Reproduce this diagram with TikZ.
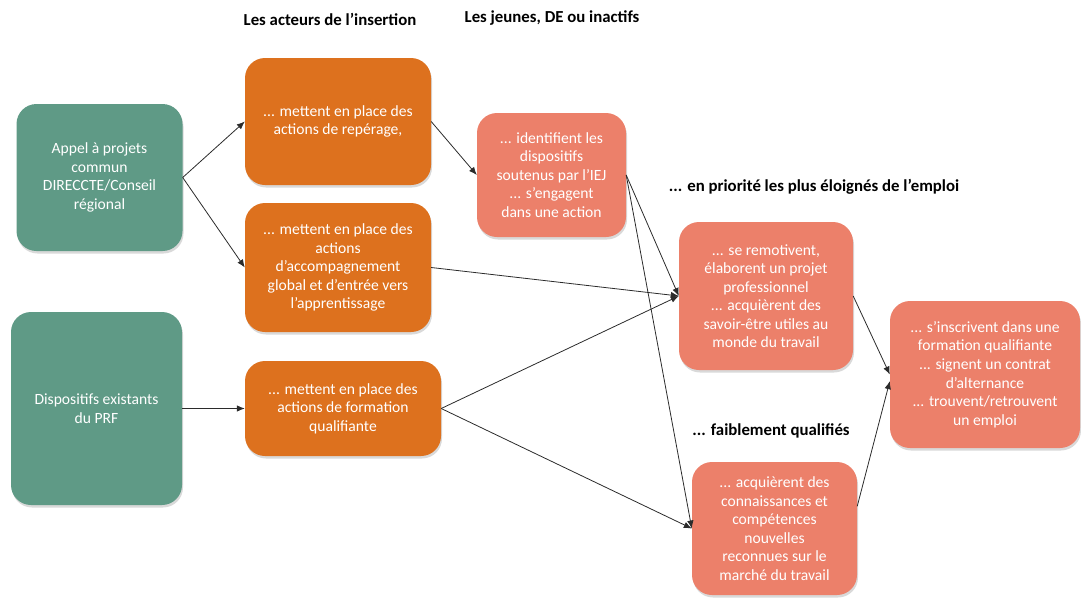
\documentclass[tikz,border=0pt]{standalone}
\usepackage{fontspec}
\setmainfont{Carlito}
\usepackage{tikz}
\usetikzlibrary{arrows.meta, shadows}
\definecolor{gcol}{HTML}{5F9A86}
\definecolor{ocol}{HTML}{DD711E}
\definecolor{scol}{HTML}{EC806A}
\definecolor{lcol}{HTML}{2B2B2B}

\begin{document}
\begin{tikzpicture}[x=1pt, y=-1pt, >={Latex[length=8pt, width=6.5pt]},
  box/.style={rounded corners=20pt, text=white, align=center, inner sep=0pt,
    font=\fontsize{15.6}{18.5}\selectfont,
    drop shadow={shadow xshift=1pt, shadow yshift=-2.5pt, opacity=0.3}},
  head/.style={font=\fontsize{16.8}{19}\selectfont\bfseries, text=black},
  arr/.style={->, lcol, line width=0.8pt}]

\useasboundingbox (0,0) rectangle (1081,600);

% sources
\node[box, fill=gcol, minimum width=166pt, minimum height=147pt] (appel) at (99.5,177.5)
  {Appel à projets\\commun\\DIRECCTE/Conseil\\régional};
\node[box, fill=gcol, minimum width=171pt, minimum height=193pt] (prf) at (96.5,408.5)
  {Dispositifs existants\\du PRF};

% acteurs
\node[box, fill=ocol, minimum width=186pt, minimum height=127pt] (rep) at (338,121.5)
  {... mettent en place des\\actions de repérage,};
\node[box, fill=ocol, minimum width=186pt, minimum height=129pt] (acc) at (338,267.5)
  {... mettent en place des\\actions\\d’accompagnement\\global et d’entrée vers\\l’apprentissage};
\node[box, fill=ocol, minimum width=196pt, minimum height=95pt] (form) at (343,408.5)
  {... mettent en place des\\actions de formation\\qualifiante};

% jeunes
\node[box, fill=scol, minimum width=149pt, minimum height=124pt] (iej) at (551.5,175)
  {... identifient les\\dispositifs\\soutenus par l’IEJ\\... s’engagent\\dans une action};
\node[box, fill=scol, minimum width=174pt, minimum height=148pt] (remot) at (766,296)
  {... se remotivent,\\élaborent un projet\\professionnel\\... acquièrent des\\savoir-être utiles au\\monde du travail};
\node[box, fill=scol, minimum width=165pt, minimum height=133pt] (conn) at (774.5,528.5)
  {... acquièrent des\\connaissances et\\compétences\\nouvelles\\reconnues sur le\\marché du travail};
\node[box, fill=scol, minimum width=190pt, minimum height=147pt] (emploi) at (985,374.5)
  {... s’inscrivent dans une\\formation qualifiante\\... signent un contrat\\d’alternance\\... trouvent/retrouvent\\un emploi};

% titres
\node[head] (h1) at (330,19) {Les acteurs de l’insertion};
\node[head] (h2) at (552,18) {Les jeunes, DE ou inactifs};
\node[head] (h3) at (814,187) {... en priorité les plus éloignés de l’emploi};
\node[head] (h4) at (771,431) {... faiblement qualifiés};

\draw[arr] (appel.east) -- (rep.west);
\draw[arr] (appel.east) -- (acc.west);
\draw[arr] (prf.east) -- (form.west);
\draw[arr] (rep.east) -- (iej.west);
\draw[arr] (acc.east) -- (remot.west);
\draw[arr] (iej.east) -- (remot.west);
\draw[arr] (iej.east) -- (conn.west);
\draw[arr] (form.east) -- (remot.west);
\draw[arr] (form.east) -- (conn.west);
\draw[arr] (remot.east) -- (emploi.west);
\draw[arr] (conn.15) -- (emploi.184);

\end{tikzpicture}
\end{document}
